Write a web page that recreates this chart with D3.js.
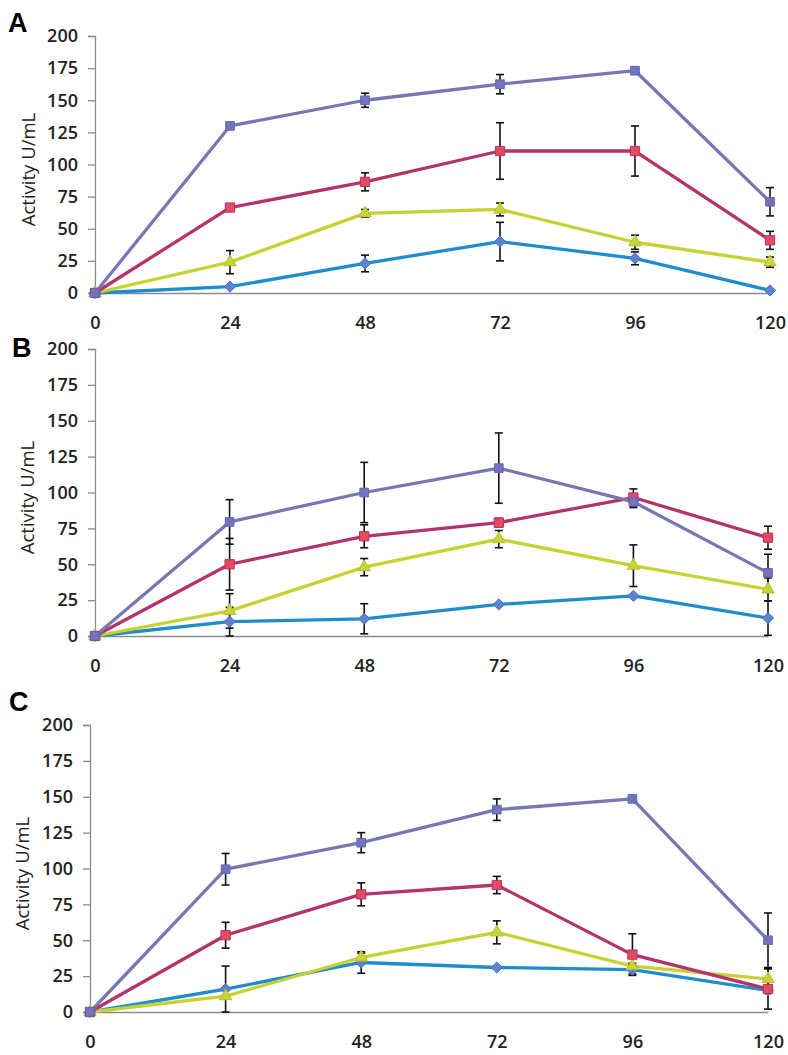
<!DOCTYPE html>
<html>
<head>
<meta charset="utf-8">
<script src="https://cdn.jsdelivr.net/npm/d3@7"></script>
<style>
  body { margin: 0; background: #fff; }
  svg { display: block; font-family: "Open Sans", sans-serif; }
  .tick text { font-family: "Open Sans", sans-serif; font-size: 18px; font-weight: 600; fill: #222; }
</style>
</head>
<body>
<div id="canvas"></div>
<script>
// sampling time (h)
const hours = [0, 24, 48, 72, 96, 120];
const yTicks = [0, 25, 50, 75, 100, 125, 150, 175, 200];

// panel A
const aBlue = [0, 5, 23, 40, 27, 2];
const aBlueErr = [0, 1, 6.5, 15, 5, 0];
const aYellow = [0, 24, 62, 65, 39.5, 24];
const aYellowErr = [0, 9, 3, 5, 5.5, 4];
const aRed = [0, 66.5, 86.5, 110.5, 110.5, 41];
const aRedErr = [0, 1, 7, 22, 19.5, 7];
const aPurple = [0, 130, 150, 162.5, 173, 71];
const aPurpleErr = [0, 1, 5.5, 7.5, 1, 11];

// panel B
const bBlue = [0, 10, 12, 22, 28, 12.5];
const bBlueErr = [0, 10, 10.5, 0, 1, 12];
const bYellow = [0, 17.5, 48, 67.5, 49, 32.5];
const bYellowErr = [0, 12, 6, 6, 14.5, 8];
const bRed = [0, 50, 69.5, 79, 96.5, 68.5];
const bRedErr = [0, 18, 8, 3, 6, 8];
const bPurple = [0, 79.5, 100, 117, 93.5, 44];
const bPurpleErr = [0, 15.5, 21, 24.5, 4, 13];

// panel C
const cBlue = [0, 16, 34.5, 31, 29.5, 15];
const cBlueErr = [0, 16, 7.5, 1, 3, 2];
const cYellow = [0, 11, 38, 55.5, 32, 23];
const cYellowErr = [0, 1, 3, 8, 2, 7.5];
const cRed = [0, 53.5, 82, 88.5, 40, 16];
const cRedErr = [0, 9, 8, 6, 14.5, 14];
const cPurple = [0, 99.5, 118, 141, 148.5, 50];
const cPurpleErr = [0, 11, 7, 7.5, 2, 19];

const styles = {
  blue:   { line: "#1f8dcb", fill: "#5d82cf", stroke: "#4a73c4", shape: d3.symbolDiamond2, size: 80 },
  red:    { line: "#b3336a", fill: "#e44b5e", stroke: "#b3336a", shape: d3.symbolSquare2, size: 110 },
  yellow: { line: "#c5d230", fill: "#c8d43a", stroke: "#b4c12a", shape: d3.symbolTriangle2, size: 110 },
  purple: { line: "#7777b1", fill: "#7374c0", stroke: "#6465ad", shape: d3.symbolSquare2, size: 95 }
};

const panels = [
  { label: "A", left: 95, right: 770, top: 36, bottom: 293, labelX: 8, labelY: 32, titleX: 29,
    series: [["blue", aBlue, aBlueErr], ["yellow", aYellow, aYellowErr], ["red", aRed, aRedErr], ["purple", aPurple, aPurpleErr]] },
  { label: "B", left: 95, right: 768, top: 349, bottom: 636, labelX: 12, labelY: 357, titleX: 28,
    series: [["blue", bBlue, bBlueErr], ["yellow", bYellow, bYellowErr], ["red", bRed, bRedErr], ["purple", bPurple, bPurpleErr]] },
  { label: "C", left: 90, right: 768, top: 725, bottom: 1012, labelX: 9, labelY: 711, titleX: 23,
    series: [["blue", cBlue, cBlueErr], ["yellow", cYellow, cYellowErr], ["red", cRed, cRedErr], ["purple", cPurple, cPurpleErr]] }
];

const svg = d3.select("#canvas").append("svg")
  .attr("width", 788)
  .attr("height", 1055);

panels.forEach(p => {
  const g = svg.append("g");

  const x = d3.scaleLinear().domain([0, 120]).range([p.left, p.right]);
  const y = d3.scaleLinear().domain([0, 200]).range([p.bottom, p.top]);

  // y axis
  const ya = g.append("g")
    .attr("transform", `translate(${p.left},0)`)
    .call(d3.axisLeft(y).tickValues(yTicks).tickSize(7).tickPadding(10));
  ya.attr("font-family", null).attr("font-size", null);
  ya.selectAll("line, path").attr("stroke", "#8c8c8c").attr("stroke-width", 1.3);

  // x axis
  const xa = g.append("g")
    .attr("transform", `translate(0,${p.bottom})`)
    .call(d3.axisBottom(x).tickValues(hours).tickSize(0).tickPadding(23));
  xa.attr("font-family", null).attr("font-size", null);
  xa.select(".domain").attr("stroke", "#8c8c8c").attr("stroke-width", 1.3);

  // panel letter
  g.append("text")
    .attr("x", p.labelX)
    .attr("y", p.labelY)
    .style("font-family", "'Liberation Sans', Arial, sans-serif")
    .style("font-size", "27px")
    .style("font-weight", "bold")
    .text(p.label);

  // axis title
  g.append("text")
    .attr("transform", `translate(${p.titleX},${(p.top + p.bottom) / 2 + 5}) rotate(-90)`)
    .attr("text-anchor", "middle")
    .attr("dy", "0.35em")
    .style("font-size", "18.5px")
    .style("fill", "#222")
    .text("Activity U/mL");

  const line = d3.line().x((d, i) => x(hours[i])).y(d => y(d));

  p.series.forEach(([key, vals, errs]) => {
    const s = styles[key];
    g.append("path")
      .datum(vals)
      .attr("fill", "none")
      .attr("stroke", s.line)
      .attr("stroke-width", 3.3)
      .attr("stroke-linejoin", "round")
      .attr("d", line);
  });

  // error bars
  p.series.forEach(([key, vals, errs]) => {
    const eb = g.append("g").attr("stroke", "#111").attr("stroke-width", 1.6);
    vals.forEach((v, i) => {
      const e = errs[i];
      if (e < 1.5) return;
      const cx = x(hours[i]);
      eb.append("line").attr("x1", cx).attr("x2", cx).attr("y1", y(v - e)).attr("y2", y(v + e));
      eb.append("line").attr("x1", cx - 4).attr("x2", cx + 4).attr("y1", y(v + e)).attr("y2", y(v + e));
      eb.append("line").attr("x1", cx - 4).attr("x2", cx + 4).attr("y1", y(v - e)).attr("y2", y(v - e));
    });
  });

  // markers
  p.series.forEach(([key, vals, errs]) => {
    const s = styles[key];
    g.append("g").selectAll("path")
      .data(vals)
      .join("path")
      .attr("transform", (d, i) => `translate(${x(hours[i])},${y(d)})`)
      .attr("d", d3.symbol().type(s.shape).size(s.size))
      .attr("fill", s.fill)
      .attr("stroke", s.stroke)
      .attr("stroke-width", 1);
  });
});
</script>
</body>
</html>
